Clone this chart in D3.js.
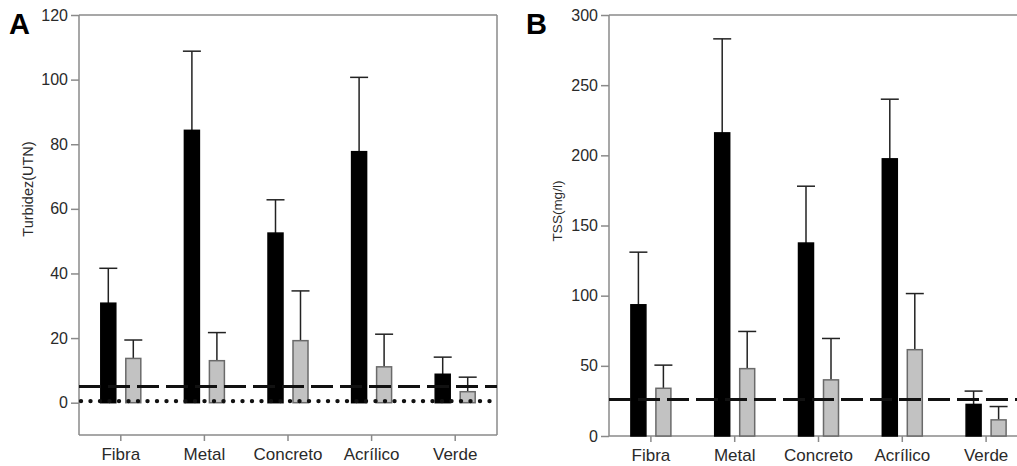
<!DOCTYPE html>
<html>
<head>
<meta charset="utf-8">
<script src="https://cdn.jsdelivr.net/npm/d3@7"></script>
<style>
  html, body { margin: 0; padding: 0; background: #fff; }
  svg { display: block; }
  svg text { font-family: "Liberation Sans", Arial, sans-serif; }
</style>
</head>
<body>
<svg id="chart" width="1017" height="466"></svg>
<script>
// ---- data ----
const categories = ["Fibra", "Metal", "Concreto", "Acrílico", "Verde"];

const turbBlack    = [30.8, 84.3, 52.5, 77.7, 8.8];
const turbBlackErr = [10.8, 24.5, 10.3, 23.0, 5.3];
const turbGray     = [13.7, 13.0, 19.2, 11.1, 3.4];
const turbGrayErr  = [5.7, 8.7, 15.4, 10.1, 4.5];
const turbTicks    = [0, 20, 40, 60, 80, 100, 120];
const turbDashed   = 5;
const turbDotted   = 0.5;

const tssBlack    = [93.5, 216, 137.5, 197.5, 22.5];
const tssBlackErr = [37.5, 67, 40.5, 42.5, 9.5];
const tssGray     = [34, 48, 40, 61.5, 11.5];
const tssGrayErr  = [16.5, 26.5, 29.5, 40, 9.5];
const tssTicks    = [0, 50, 100, 150, 200, 250, 300];
const tssDashed   = 26;

const svg = d3.select("#chart");
const FONT = '"Liberation Sans", Arial, sans-serif';
const AXIS = "#8a8a8a";
const TXT = "#2a2a2a";

function panel(opt) {
  const g = svg.append("g");
  const x = d3.scaleBand().domain(categories).range([opt.left, opt.right]).padding(0);
  const y = d3.scaleLinear().domain(opt.domain).range([opt.bottom, opt.top]);
  const barW = 15, off = 12.5, capW = 18;

  // box
  g.append("line").attr("x1", opt.left).attr("x2", opt.right).attr("y1", opt.top).attr("y2", opt.top)
    .attr("stroke", AXIS).attr("stroke-width", 1.5);
  if (opt.rightBorder) {
    g.append("line").attr("x1", opt.right).attr("x2", opt.right).attr("y1", opt.top).attr("y2", opt.bottom)
      .attr("stroke", AXIS).attr("stroke-width", 1.5);
  }

  // y axis
  const yAxis = d3.axisLeft(y).tickValues(opt.ticks).tickSize(8).tickPadding(3).tickFormat(d3.format("d"));
  const ya = g.append("g").attr("transform", `translate(${opt.left},0)`).call(yAxis)
    .attr("font-family", FONT).attr("font-size", 16);
  ya.select(".domain").attr("stroke", AXIS).attr("stroke-width", 1.5)
    .attr("d", `M0,${opt.top}V${opt.bottom}`);
  ya.selectAll(".tick line").attr("stroke", AXIS).attr("stroke-width", 1.5);
  ya.selectAll(".tick text").attr("fill", TXT);

  // x axis
  const xAxis = d3.axisBottom(x).tickSize(6).tickPadding(7);
  const xa = g.append("g").attr("transform", `translate(0,${opt.bottom})`).call(xAxis)
    .attr("font-family", FONT).attr("font-size", 17);
  xa.select(".domain").attr("stroke", AXIS).attr("stroke-width", 1.5)
    .attr("d", `M${opt.left},0H${opt.right}`);
  xa.selectAll(".tick line").attr("stroke", AXIS).attr("stroke-width", 1.5);
  xa.selectAll(".tick text").attr("fill", TXT);

  const base = y(0);
  const series = [
    { vals: opt.black, errs: opt.blackErr, dx: -off, fill: "#000", stroke: "#000" },
    { vals: opt.gray, errs: opt.grayErr, dx: off, fill: "#c2c2c2", stroke: "#6a6a6a" }
  ];
  series.forEach(s => {
    const cx = (i) => x(categories[i]) + x.bandwidth() / 2 + s.dx;
    g.selectAll(null).data(s.vals).enter().append("line")
      .attr("x1", (d, i) => cx(i)).attr("x2", (d, i) => cx(i))
      .attr("y1", d => y(d)).attr("y2", (d, i) => y(d + s.errs[i]))
      .attr("stroke", "#222").attr("stroke-width", 1.5);
    g.selectAll(null).data(s.vals).enter().append("line")
      .attr("x1", (d, i) => cx(i) - capW / 2).attr("x2", (d, i) => cx(i) + capW / 2)
      .attr("y1", (d, i) => y(d + s.errs[i])).attr("y2", (d, i) => y(d + s.errs[i]))
      .attr("stroke", "#222").attr("stroke-width", 1.5);
    g.selectAll(null).data(s.vals).enter().append("rect")
      .attr("x", (d, i) => cx(i) - barW / 2).attr("width", barW)
      .attr("y", d => y(d)).attr("height", d => base - y(d))
      .attr("fill", s.fill).attr("stroke", s.stroke).attr("stroke-width", 1.5);
  });

  // reference lines
  g.append("line").attr("x1", opt.left).attr("x2", opt.right)
    .attr("y1", y(opt.dashed)).attr("y2", y(opt.dashed))
    .attr("stroke", "#111").attr("stroke-width", 3).attr("stroke-dasharray", "22,7");
  if (opt.dotted !== undefined) {
    g.append("line").attr("x1", opt.left + 2).attr("x2", opt.right)
      .attr("y1", y(opt.dotted)).attr("y2", y(opt.dotted))
      .attr("stroke", "#111").attr("stroke-width", 4.4).attr("stroke-linecap", "round")
      .attr("stroke-dasharray", "0,9.5");
  }

  // titles
  g.append("text").attr("x", opt.letterX).attr("y", 34).text(opt.letter)
    .attr("fill", "#000").style("font-size", "29px").style("font-weight", "bold");
  g.append("text")
    .attr("transform", `translate(${opt.labelX},${opt.labelY}) rotate(-90)`)
    .attr("text-anchor", "middle").attr("fill", TXT)
    .style("font-size", opt.labelSize).text(opt.label);
}

panel({
  left: 79, right: 497, top: 15, bottom: 435, domain: [-10, 120],
  ticks: turbTicks, black: turbBlack, blackErr: turbBlackErr,
  gray: turbGray, grayErr: turbGrayErr, dashed: turbDashed, dotted: turbDotted,
  rightBorder: true, letter: "A", letterX: 9, label: "Turbidez(UTN)",
  labelX: 33, labelY: 189, labelSize: "14.5px"
});

panel({
  left: 609, right: 1028, top: 15, bottom: 436, domain: [0, 300],
  ticks: tssTicks, black: tssBlack, blackErr: tssBlackErr,
  gray: tssGray, grayErr: tssGrayErr, dashed: tssDashed,
  rightBorder: false, letter: "B", letterX: 526, label: "TSS(mg/l)",
  labelX: 562, labelY: 211, labelSize: "13.5px"
});
</script>
</body>
</html>
